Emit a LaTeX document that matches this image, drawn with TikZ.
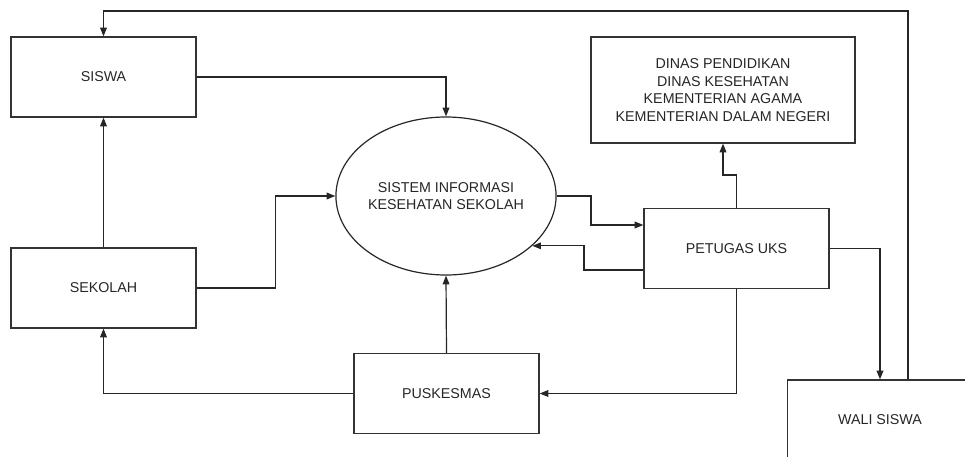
\documentclass[tikz,border=0pt]{standalone}
\usepackage{fontspec}
\setmainfont{Liberation Sans}
\usetikzlibrary{arrows.meta,shapes.geometric}
\begin{document}
\begin{tikzpicture}[x=0.75pt,y=-0.75pt,>={Triangle[length=6.5pt,width=5pt]}]
        \tikzstyle{entity}=[rectangle,draw=black!80,line width=0.9pt,minimum width=138.75pt,minimum height=60pt,font=\fontsize{10.7}{13.2}\selectfont,text=black!85,align=center]
        \tikzstyle{process}=[ellipse,draw=black!85,line width=0.9pt,minimum width=138pt,minimum height=118.5pt,inner sep=0pt,font=\fontsize{10.7}{13.2}\selectfont,text=black!85,align=center]
        \tikzstyle{flow}=[draw=black!85,line width=0.9pt,->]
        \useasboundingbox (0,0) rectangle (965,457);
        \clip (0,0) rectangle (965,457);
        % external entities and the process
        \node [entity] (siswa) at (103.5,77) {SISWA};
        \node [entity] (sekolah) at (103.5,288) {SEKOLAH};
        \node [process] (sis) at (446,196) {SISTEM INFORMASI\\KESEHATAN SEKOLAH};
        \node [entity] (puskesmas) at (446.5,393.5) {PUSKESMAS};
        \node [entity] (petugas) at (736.5,248.5) {PETUGAS UKS};
        \node [entity,minimum width=198pt,minimum height=79.5pt] (dinas) at (723,90) {DINAS PENDIDIKAN\\DINAS KESEHATAN\\KEMENTERIAN AGAMA\\KEMENTERIAN DALAM NEGERI};
        \node [entity] (wali) at (880,420) {WALI SISWA};
        % bend points
        \coordinate (c1) at (591,225);
        \coordinate (c2) at (584,270);
        \coordinate (c3) at (908,11);
        % data flows
        \path[flow] (siswa.east) -| (sis.north);
        \path[flow] (sekolah.north) -- (siswa.south);
        \path[flow] (sekolah.east) -- ++(79,0) |- (sis.west);
        \path[flow] (sis.east) -| (c1) -- (c1 -| petugas.west);
        \path[flow] (c2 -| petugas.west) -- (c2) |- (sis.-30);
        \path[flow] (petugas.north) -- ++(0,-33) -| (dinas.south);
        \path[flow] (petugas.south) |- (puskesmas.east);
        \path[flow] (petugas.east) -| (wali.north);
        \path[flow] (puskesmas.west) -| (sekolah.south);
        \path[flow] (puskesmas.north) -- (sis.south);
        \path[flow] (c3 |- wali.north) -- (c3) -| (siswa.north);
      \end{tikzpicture}
\end{document}
